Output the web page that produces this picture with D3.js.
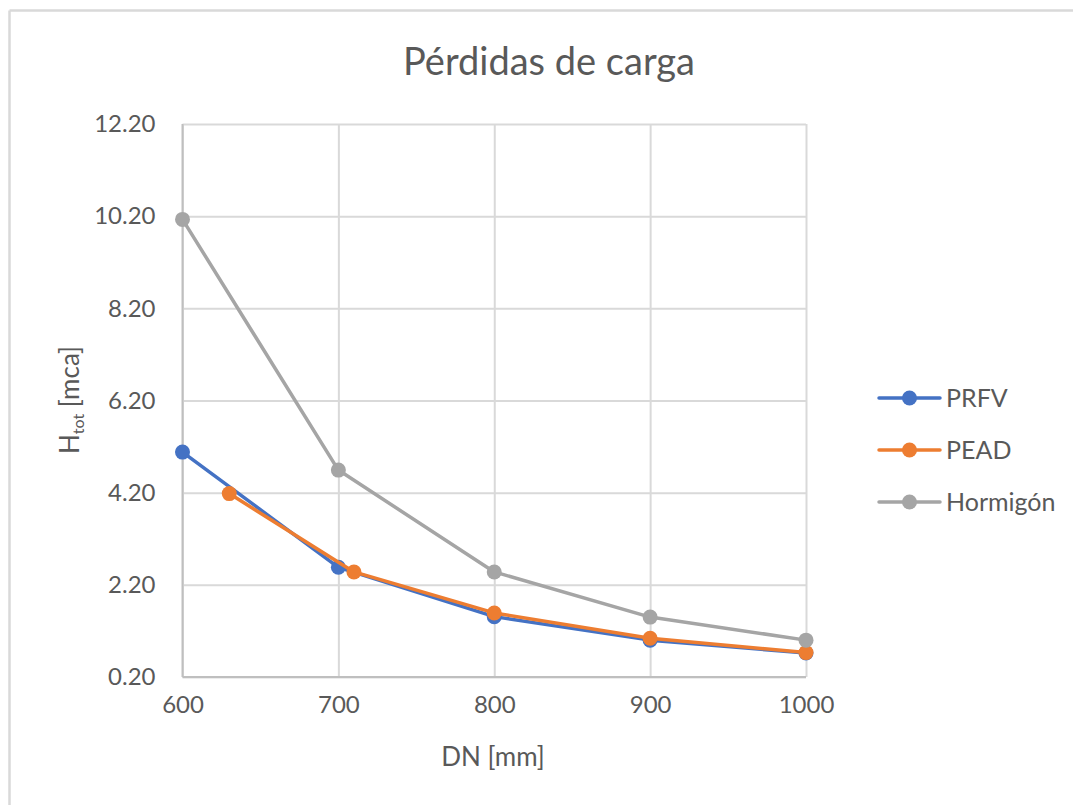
<!DOCTYPE html>
<html><head><meta charset="utf-8">
<script src="https://cdn.jsdelivr.net/npm/d3@7"></script>
<style>body{margin:0;background:#fff;}svg{display:block;font-family:Lato, "Open Sans", sans-serif;}</style>
</head><body>
<svg id="c" width="1073" height="805"></svg>
<script>
const title = "Pérdidas de carga";
const xTicks = [600, 700, 800, 900, 1000];
const yTicks = [0.2, 2.2, 4.2, 6.2, 8.2, 10.2, 12.2];
const seriesNames = ["PRFV", "PEAD", "Hormigón"];
const seriesColors = ["#4472C4", "#ED7D31", "#A5A5A5"];
const prfvDN = [600, 700, 800, 900, 1000];
const prfvH = [5.08, 2.58, 1.51, 1.00, 0.72];
const peadDN = [630, 710, 800, 900, 1000];
const peadH = [4.18, 2.48, 1.59, 1.04, 0.73];
const hormDN = [600, 700, 800, 900, 1000];
const hormH = [10.13, 4.69, 2.48, 1.50, 1.00];

const series = [
  {name: seriesNames[0], color: seriesColors[0], pts: prfvDN.map((d,i)=>[d, prfvH[i]])},
  {name: seriesNames[1], color: seriesColors[1], pts: peadDN.map((d,i)=>[d, peadH[i]])},
  {name: seriesNames[2], color: seriesColors[2], pts: hormDN.map((d,i)=>[d, hormH[i]])}
];

const svg = d3.select("#c");
const L = 182.5, R = 806, T = 124, B = 677;
const x = d3.scaleLinear().domain([600, 1000]).range([L, R]);
const y = d3.scaleLinear().domain([0.2, 12.2]).range([B, T]);

// outer border (top & left visible)
svg.append("line").attr("x1", 9.5).attr("x2", 1073).attr("y1", 10.5).attr("y2", 10.5).attr("stroke", "#d9d9d9").attr("stroke-width", 2.5);
svg.append("line").attr("x1", 9.5).attr("x2", 9.5).attr("y1", 10.5).attr("y2", 805).attr("stroke", "#d9d9d9").attr("stroke-width", 2.5);

// gridlines
const gx = svg.append("g").attr("transform", `translate(0,${B})`)
  .call(d3.axisBottom(x).tickValues(xTicks).tickSize(-(B - T)).tickFormat(d3.format("d")).tickPadding(19));
gx.select(".domain").remove();
gx.selectAll(".tick line").attr("stroke", "#d9d9d9").attr("stroke-width", 2);
gx.selectAll(".tick text").attr("fill", "#595959").attr("font-size", 24).attr("font-family", "Lato").attr("dy", "0.71em");

const gy = svg.append("g").attr("transform", `translate(${L},0)`)
  .call(d3.axisLeft(y).tickValues(yTicks).tickSize(-(R - L)).tickFormat(d3.format(".2f")).tickPadding(27));
gy.select(".domain").remove();
gy.selectAll(".tick line").attr("stroke", "#d9d9d9").attr("stroke-width", 2);
gy.selectAll(".tick text").attr("fill", "#595959").attr("font-size", 24).attr("font-family", "Lato");

// axis lines
svg.append("line").attr("x1", L).attr("x2", L).attr("y1", T).attr("y2", B).attr("stroke", "#bfbfbf").attr("stroke-width", 2);
svg.append("line").attr("x1", L).attr("x2", R).attr("y1", B).attr("y2", B).attr("stroke", "#bfbfbf").attr("stroke-width", 2);

// series
const line = d3.line().x(d => x(d[0])).y(d => y(d[1]));
series.forEach(s => {
  const g = svg.append("g");
  g.append("path").attr("d", line(s.pts)).attr("fill", "none").attr("stroke", s.color)
    .attr("stroke-width", 3.5).attr("stroke-linejoin", "round").attr("stroke-linecap", "round");
  g.selectAll("circle").data(s.pts).join("circle")
    .attr("cx", d => x(d[0])).attr("cy", d => y(d[1])).attr("r", 7.5).attr("fill", s.color);
});

// title
svg.append("text").attr("x", 549).attr("y", 75).attr("text-anchor", "middle")
  .attr("fill", "#595959").attr("font-size", 38).text(title);

// axis titles
svg.append("text").attr("x", 493).attr("y", 766).attr("text-anchor", "middle")
  .attr("fill", "#595959").attr("font-size", 26).text("DN [mm]");
const yt = svg.append("text").attr("transform", "translate(79,400) rotate(-90)").attr("text-anchor", "middle")
  .attr("fill", "#595959").attr("font-size", 26);
yt.append("tspan").text("H");
yt.append("tspan").attr("font-size", 16).attr("dy", 5).text("tot");
yt.append("tspan").attr("dy", -5).text(" [mca]");

// legend
const lg = svg.append("g");
series.forEach((s, i) => {
  const ly = 398 + i * 52;
  lg.append("line").attr("x1", 879).attr("x2", 940).attr("y1", ly).attr("y2", ly)
    .attr("stroke", s.color).attr("stroke-width", 3.5).attr("stroke-linecap", "round");
  lg.append("circle").attr("cx", 909.5).attr("cy", ly).attr("r", 7.5).attr("fill", s.color);
  lg.append("text").attr("x", 946).attr("y", ly).attr("dy", "0.36em")
    .attr("fill", "#595959").attr("font-size", 25).text(s.name);
});
</script>
</body></html>
